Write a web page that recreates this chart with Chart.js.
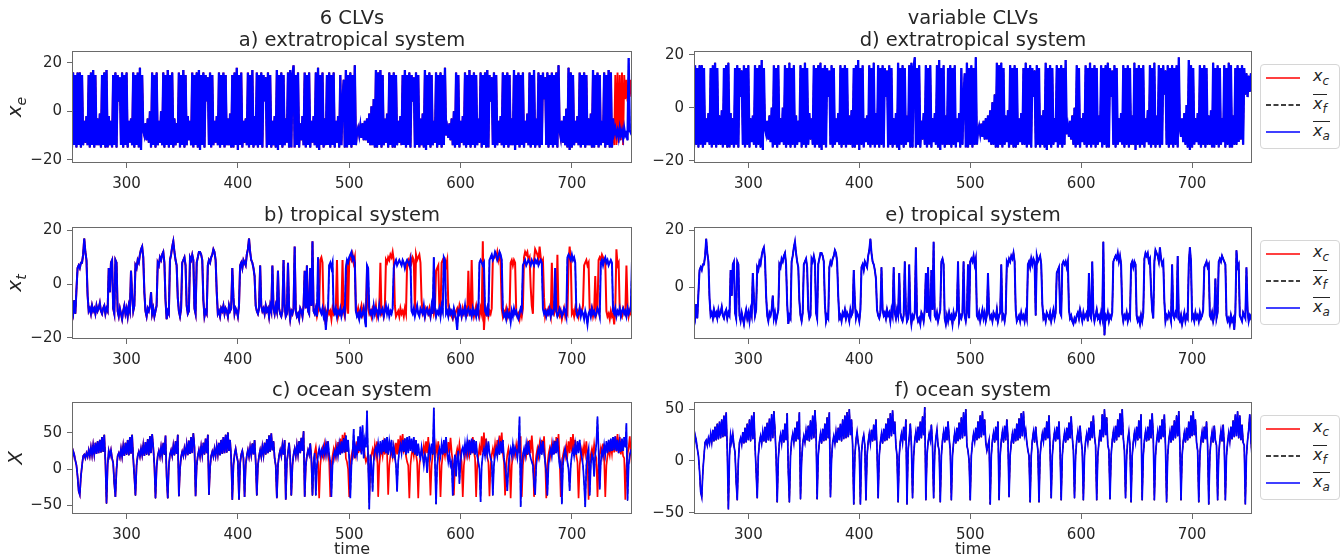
<!DOCTYPE html>
<html>
<head>
<meta charset="utf-8">
<script src="https://cdn.jsdelivr.net/npm/chart.js@4.4.1/dist/chart.umd.min.js"></script>
<style>
  body { margin: 0; background: #fff; font-family: 'DejaVu Sans', sans-serif; color: #262626; }
  #fig { position: relative; width: 1343px; height: 560px; overflow: hidden; }
  canvas { position: absolute; }
  .ttl { position: absolute; width: 600px; margin-left: -300px; text-align: center; font-size: 19.5px; line-height: 22px; }
  .ylab { position: absolute; font-size: 20px; font-style: italic; transform: translate(-50%, -50%) rotate(-90deg); white-space: nowrap; }
  .ylab sub { font-size: 14px; }
  .xlab { position: absolute; width: 200px; margin-left: -100px; text-align: center; font-size: 16px; }
  .leg { position: absolute; left: 1260px; width: 80px; height: 85px; border: 1px solid #d6d6d6; border-radius: 4px; background: #fff; box-sizing: border-box; }
  .leg svg { position: absolute; left: 5px; }
  .leg .lt { position: absolute; left: 52px; font-size: 16px; font-style: italic; line-height: 17px; }
  .leg sub { font-size: 12px; }
  .ov { display: inline-block; border-top: 1px solid #262626; line-height: 16px; padding-top: 1px; }
</style>
</head>
<body>
<div id="fig">
  <canvas id="pa" width="640" height="200" style="left:0;top:0"></canvas>
  <canvas id="pb" width="640" height="180" style="left:0;top:190px"></canvas>
  <canvas id="pc" width="640" height="190" style="left:0;top:370px"></canvas>
  <canvas id="pd" width="610" height="200" style="left:650px;top:0"></canvas>
  <canvas id="pe" width="610" height="180" style="left:650px;top:190px"></canvas>
  <canvas id="pf" width="610" height="190" style="left:650px;top:370px"></canvas>

  <div class="ttl" style="left:352px;top:7px">6 CLVs<br>a) extratropical system</div>
  <div class="ttl" style="left:973px;top:7px">variable CLVs<br>d) extratropical system</div>
  <div class="ttl" style="left:352px;top:204px">b) tropical system</div>
  <div class="ttl" style="left:973px;top:204px">e) tropical system</div>
  <div class="ttl" style="left:352px;top:379px">c) ocean system</div>
  <div class="ttl" style="left:973px;top:379px">f) ocean system</div>

  <div class="ylab" style="left:15px;top:107px">x<sub>e</sub></div>
  <div class="ylab" style="left:15px;top:283px">x<sub>t</sub></div>
  <div class="ylab" style="left:15px;top:458px">X</div>
  <div class="xlab" style="left:352px;top:539px">time</div>
  <div class="xlab" style="left:973px;top:539px">time</div>

  <div class="leg" style="top:64px" id="lg1"></div>
  <div class="leg" style="top:240px" id="lg2"></div>
  <div class="leg" style="top:415px" id="lg3"></div>
</div>
<script>
// time axis
const tStart = 250;
const xTicks = [300, 400, 500, 600, 700];
const yTicksE = [-20, 0, 20];
const yTicksTb = [-20, 0, 20];
const yTicksTe = [0, 20];
const yTicksO = [-50, 0, 50];

// truth x_c, extratropical (t = 250..754)
const xcE = [
  16, -15, 16, -14, 15, -15, 16, -14, 16, -15,
  15, -14, -4, -13, -2, -14, 15, -15, 16, -14,
  17, -15, 15, -14, -3, -14, -1, -15, 15, -14,
  16, -15, 17, -15, -2, -14, -4, -15, 15, -14,
  16, -15, 15, 4, 14, -14, 16, -15, 15, -14,
  16, -15, -4, -13, -3, -14, 16, -15, 15, -14,
  16, -15, 18, -16, 15, -8, -10, -5, -12, -3,
  -13, 0, -15, 16, -14, 15, -15, 16, -14, -4,
  -13, 0, -14, 16, -15, 15, -14, 17, -15, 15,
  -14, 16, -15, -3, -14, -5, -13, 16, -15, 15,
  -14, 17, -15, 15, -14, -2, -12, -4, -14, 16,
  -15, 15, -14, 16, -15, 17, -16, 15, -14, 16,
  -15, 15, 4, 14, -14, 16, -15, 15, -14, -4,
  -13, -2, -14, 16, -15, 15, -14, 16, -15, 15,
  -14, -3, -14, -1, -15, 15, -15, 16, -14, 18,
  -16, 15, -14, 16, -15, -4, -13, -3, -14, 16,
  -15, 15, -14, 17, -15, -2, -14, 16, -15, 15,
  -14, 16, -15, 15, 4, 14, -15, 16, -14, 15,
  -15, -4, -14, -2, -15, 17, -16, 15, -14, 16,
  -15, 15, -14, -3, -13, 16, -15, 17, -15, 15,
  19, -15, 15, -14, 16, -15, -5, -12, -2, -14,
  16, -15, 15, -14, 16, -15, -4, -13, -2, -14,
  16, -15, 18, -16, 15, -14, 16, -15, -3, -14,
  15, -14, 16, -15, 15, -14, 16, -15, -4, -13,
  -2, -15, 15, -14, 4, 13, -15, 17, -15, 15,
  -14, 16, -15, 15, -14, 19, -14, -9, -7, -10,
  -6, -11, -5, -12, -4, -12, -3, -13, -1, -14,
  2, -14, 5, -15, 17, -15, 16, -14, 17, -15,
  15, -14, -3, -13, -1, -15, 16, -14, 15, -15,
  16, -15, 15, -14, -4, -13, -2, -14, 15, -14,
  17, -15, 15, -14, 16, -15, 15, 4, 14, -15,
  16, -14, 15, -15, -3, -14, -1, -15, 17, -16,
  15, -14, 16, -15, 15, -14, -4, -13, 16, -15,
  15, -14, 16, -15, 15, -14, 18, -10, -7, -11,
  -5, -12, -3, -14, 0, -15, 16, -14, 15, -15,
  -4, -13, -2, -14, 16, -15, 15, -14, 17, -15,
  15, -14, 16, -15, 15, -14, -3, -13, 16, -15,
  15, -14, 16, -15, 17, -15, 15, 4, 14, -14,
  16, -15, 15, -14, -4, -13, -2, -14, 16, -15,
  15, -14, 16, -15, 15, -14, -3, -14, 17, -16,
  15, -14, 16, -15, 15, -14, 16, -15, -4, -13,
  -1, -14, 16, -15, 15, -14, 17, -15, -3, -14,
  16, -15, 15, -14, 16, 5, 14, -14, 16, -15,
  15, -14, 16, -15, 15, -14, 16, -15, 19, -8,
  -11, -4, -13, -2, -14, 1, -15, 18, -16, 16,
  -15, 15, -14, -4, -13, -2, -14, 16, -15, 15,
  -14, 16, -15, 15, -14, -3, -14, -1, -15, 17,
  -15, 15, -14, 16, -15, 15, -14, -4, -13, 16,
  -15, 15, -14, 17, -15, 16, -15, -3, -14, 15,
  -14, 16, -13, 15, -12, 16, -14, 15, 5, 13,
  4, 12, 6, 13, 7,
];
// 6 CLVs analysis, extratropical, from t = 738 on
const xaE6Tail = [-9, -7, -10, -8, -11, -7, -10, -8, -11, -7, -10, -9, -12, 22, -8, -9, -8];

// truth x_c, tropical
const xcT = [
  -4, -9, -11, -6, -11, -2, 6, 7, 6, 8,
  8, 11, 17, 12, 9, -4, -10, -9, -11, -8,
  -10, -9, -11, -8, -10, -9, -7, -10, -11, -9,
  -8, -11, -9, -10, 6, -3, 8, 9, -9, -11,
  9, 8, -10, -12, -9, -11, -13, -10, -8, -11,
  -9, -12, -8, -10, 5, -4, -10, -8, 7, 6,
  9, 8, 11, 13, 14, 10, -3, -10, -12, -9,
  -10, -8, -3, -11, -9, -12, -10, -8, 8, 7,
  10, 9, 11, 12, 8, -6, -13, -10, -11, 9,
  11, 14, 16, 12, 9, 7, -5, -10, -12, -9,
  8, 9, 10, 7, -8, -11, -10, 10, 9, 11,
  9, -9, -11, 8, 10, 12, 12, 11, 9, -6,
  -12, -10, -11, 7, 9, 8, 10, 11, 13, 12,
  9, -3, -11, -10, -12, -9, -10, -8, -11, -9,
  -10, -12, -8, -10, -9, 6, -5, -11, -9, -10,
  -12, -8, 7, 8, 6, 9, 8, 7, 11, 13,
  17, 12, 9, 8, 6, 3, -8, -10, -11, -9,
  7, -8, -10, -9, -11, -8, -10, -9, -12, -8,
  -10, 7, -9, -11, -8, -10, 5, -9, -11, -12,
  -10, 9, -8, -12, -11, 8, -9, -13, -10, -11,
  -9, 14, -10, -12, -11, -13, -9, -10, -12, -8,
  5, -9, 7, -10, -11, 6, -8, 16, -10, -11,
  -9, -12, -10, -8, 9, 10, 8, -11, -13, -10,
  -12, -9, -11, -10, -13, -9, -11, -10, -8, 9,
  -12, -10, -11, -9, 9, -10, -12, -9, 8, -11,
  9, 10, 9, 11, 8, 10, -10, -11, -9, -12,
  -10, -8, -11, -9, -12, -10, 5, -9, -11, -10,
  -12, -9, -10, -11, -8, -12, -10, -9, 8, -11,
  -10, -12, -9, 9, 8, 10, 9, 11, 10, 12,
  9, -8, -12, -11, -10, -12, -9, -11, -10, -12,
  -9, -11, 8, 9, 7, 10, 8, 10, 9, -10,
  11, 9, 10, 11, 8, -6, -11, -10, -12, -9,
  -10, -11, -9, -12, -10, -8, -11, -9, 5, 6,
  7, -9, -10, 8, 9, 8, 9, 7, 9, -8,
  -11, -10, -12, -13, -11, -12, -10, -9, -11, -8,
  -10, -12, -9, -11, -10, -9, -12, 5, -10, -11,
  9, -9, -12, -10, -8, -11, -10, -12, -9, -11,
  16, -17, -10, -11, -9, -12, -10, -11, -9, 9,
  10, 11, 10, 12, 9, 11, 8, -9, -12, -10,
  -11, -9, -12, -10, -11, 8, 9, 7, 9, 8,
  -10, -12, -11, -13, -10, -12, -9, 10, 12, 11,
  12, 9, 10, -1, -8, -11, 9, 13, 12, 11,
  9, 14, 10, 8, 9, -5, -12, -10, -11, -9,
  -10, -12, 8, -10, -11, -9, -10, 11, -11, -12,
  -10, -13, -11, -9, -12, -10, -11, 8, 14, 9,
  -11, -10, -12, -9, -11, -10, -12, -9, -11, -10,
  -8, 7, 8, 9, 7, 8, -10, -11, -9, -12,
  -10, 3, -11, -9, 9, 10, 9, 11, 10, 9,
  8, -10, -12, -11, -13, -10, -12, -11, -15, -9,
  13, 7, 8, -10, -11, -12, -9, -10, -11, 7,
  -8, -12, -10, -11, -9,
];
// 6 CLVs analysis, tropical, from t = 470 on
const xaT6Tail = [
  -9, -12, 10, -8, -10, -11, -9, -12, -10, -17,
  -11, -9, 7, 8, 6, 8, -10, -11, -9, -12,
  -10, -11, -9, -12, -10, -9, -11, 6, 9, 8,
  10, 11, 12, 9, 10, 8, -10, -12, -11, -13,
  -10, -12, -11, -9, -13, -16, 7, 6, -9, -11,
  -10, -12, -8, -11, -9, -10, -12, -8, -11, -10,
  -9, -12, -10, -8, -11, -9, -12, -10, -11, -9,
  6, 8, 9, 7, 8, 9, 8, 7, 9, 8,
  6, 8, 9, 8, 7, 9, -10, -11, -9, -12,
  -10, -8, -11, -12, -9, -10, -11, -8, -12, -10,
  -9, -11, -10, -12, -8, -11, 10, -9, -12, -10,
  -11, -9, -12, -8, -10, 10, 9, -11, -10, -12,
  -9, -11, -10, -12, -9, -11, -13, -17, -10, -11,
  -9, -12, -10, -11, -8, -12, -10, -9, -11, -10,
  -12, -9, -11, -10, -12, -9, -11, 8, 9, 8,
  7, 8, -10, -11, -9, -12, 9, 10, 11, 9,
  10, 12, 11, 9, 10, 12, 11, 9, -10, -12,
  -11, -13, -10, -12, -11, -14, -10, -12, -9, -11,
  -10, -12, -13, -11, -9, -10, 7, 8, 9, 7,
  8, 9, 8, 7, 9, 8, 7, 9, 8, 9,
  7, 8, 9, 8, -9, -11, -10, -12, -10, -11,
  -9, -12, -10, -11, -9, 6, -10, -12, -11, -9,
  -10, -12, -11, -9, -10, -12, 10, 11, 10, 9,
  11, 9, 10, 8, -10, -12, -11, -9, -12, -10,
  -11, -13, -10, -12, -15, -11, -10, -12, -9, -11,
  -10, -12, -11, -9, -10, -12, 8, 9, 7, 9,
  10, 8, 9, 7, 8, 9, 8, -10, -11, -9,
  -12, -10, -11, -9, -12, -10, -9, -11, -10, -12,
  -9, -11, -10, -8, 9,
];

// truth x_c, ocean
const xcO = [
  -45, 10, 25, 20, 12, 5, -10, -30, -35, -10,
  5, 18, 20, 15, 22, 17, 26, 18, 30, 19,
  33, 20, 36, 21, 38, 22, 40, 23, 44, 24,
  47, 10, -47, 5, 25, 18, 26, 15, 8, -20,
  -38, 0, 18, 22, 16, 28, 17, 32, 18, 36,
  20, 40, 19, 44, 21, 47, 15, -10, -36, 5,
  18, 24, 17, 28, 19, 33, 18, 37, 20, 41,
  19, 45, 22, 48, 30, 5, -40, 2, 18, 25,
  17, 30, 18, 36, 20, 46, -10, -40, 5, 20,
  26, 18, 32, 19, 38, 21, 47, -37, 0, 17,
  24, 18, 29, 20, 34, 19, 39, 21, 44, 22,
  49, 30, -37, 5, 18, 26, 17, 31, 19, 36,
  20, 42, 22, 47, -35, 2, 18, 24, 17, 28,
  18, 32, 20, 36, 19, 40, 21, 44, 22, 47,
  23, 50, 25, 40, 15, -42, 5, 20, 28, 18,
  10, -42, 8, 20, 25, 15, -38, 5, 18, 26,
  17, 30, 19, 35, 20, 40, 10, -36, 5, 18,
  26, 17, 31, 19, 36, 20, 41, 22, 46, 24,
  49, 26, 38, 15, 5, -40, 5, 19, 26, 18,
  33, 20, 40, -42, 10, 22, 36, 15, -36, 5,
  20, 28, 18, 33, 20, 38, 22, 43, 25, 52,
  -38, 5, 18, 26, 20, 35, 15, -36, 8, 22,
  30, 15, 10, -40, 5, 20, 28, 18, 33, 20,
  38, 22, 10, -38, 5, 18, 27, 17, 32, 19,
  37, 21, 42, 22, 47, 24, 50, 15, 10, 0,
  -38, 5, 18, 26, 19, 32, 20, 38, 22, 44,
  23, 48, 25, 40, 18, 10, 15, 20, -42, 5,
  20, 27, 18, 33, 20, 38, -38, 5, 20, 28,
  18, 34, 20, 40, 22, -35, 5, 18, 26, 17,
  31, 19, 36, 20, 41, 22, 46, 24, 48, 25,
  30, 18, 10, 5, -40, 5, 20, 28, 18, 33,
  20, 10, -40, 5, 18, 26, 19, 32, 20, 38,
  22, 44, 10, -36, 5, 20, 28, 19, 33, 21,
  38, 10, -38, 5, 19, 27, 18, 32, 20, 37,
  22, 43, 23, 10, -36, 5, 20, 28, 18, 34,
  20, 10, -38, 5, 19, 26, 18, 32, 20, 38,
  22, 44, 24, 15, -38, 5, 18, 30, 19, 45,
  23, 50, 25, 42, 16, 10, -37, 5, 20, 28,
  18, 34, 20, 40, 23, 46, 25, 50, 22, 10,
  -36, 5, 20, 28, 15, -40, 5, 18, 27, 19,
  33, 20, 39, 22, 45, -38, 5, 20, 28, 19,
  33, 20, 40, 22, 46, 24, -38, 5, 19, 28,
  18, 34, 21, 40, 23, 45, 15, -40, 5, 20,
  28, 18, 34, 20, 39, 22, 44, 24, 48, 15,
  -38, 5, 19, 27, 18, 32, 20, 38, 22, 44,
  24, 48, 25, 40, 18, 10, -40, 5, 20, 28,
  18, 33, 21, 38, 15, -42, 5, 20, 28, 18,
  34, 20, 15, -38, 5, 20, 29, 19, 35, 15,
  -38, 5, 18, 27, 19, 33, 21, 39, 23, 45,
  24, 48, 22, 44, 20, 35, 18, 15, -42, 5,
  20, 30, 45, 20, 5,
];
// 6 CLVs analysis, ocean, from t = 470 on
const xaO6Tail = [
  -36, 5, 20, 28, 18, 26, 19, 30, 20, 34,
  21, 38, 20, 10, -38, 5, 18, 25, 17, 30,
  19, 34, 20, 38, 22, 42, 23, 46, 24, 40,
  15, -40, 5, 20, 55, 15, 30, 20, 45, 25,
  58, 20, 60, 15, 40, 30, 80, 10, -55, 20,
  5, -31, 10, 25, 30, 20, 35, 22, 38, 20,
  40, 24, 42, 22, 44, 20, 38, 25, 40, 15,
  30, 18, 5, -31, 10, 25, 33, 22, 40, 24,
  42, 20, 44, 22, 45, 25, 42, 23, 44, 20,
  40, 18, 35, 20, 15, 30, 18, 5, 20, 15,
  -5, 20, 30, 18, 35, 20, 84, 10, -48, 5,
  20, 28, 18, 34, 20, 40, 22, 44, 24, 10,
  20, 5, 10, -36, 5, 20, -10, 15, 25, -20,
  10, 25, 30, 20, 35, 22, 38, 24, 40, 20,
  42, 22, 40, 20, 38, 18, 10, 0, -45, 5,
  20, 28, 18, 33, 20, 38, 22, 15, 10, -36,
  5, 20, 28, 18, 34, 20, 38, 22, 40, 15,
  5, -10, -30, 5, 20, 28, 18, 34, 20, 30,
  25, 15, 30, 72, -52, 5, 20, 28, 18, 34,
  20, 38, 22, 15, 10, 5, -20, -35, 5, 20,
  28, 18, 34, 20, 38, 22, 10, -5, -36, 5,
  20, 28, 18, 34, 20, 38, 22, 42, 20, 5,
  10, -48, 5, 20, 28, 18, 10, 0, -30, 5,
  20, 28, 18, 34, 20, 38, 22, 40, 24, 15,
  5, -20, -52, 5, 20, 28, -36, 5, 20, 15,
  -10, 20, 35, 72, 25, -28, 10, 25, 18, 33,
  20, 38, 22, 40, 24, 42, 25, 44, 26, 45,
  25, 40, 22, 38, 24, 42, 25, 44, 30, 63,
  -43, 5, 20, 25, 22,
];

const times = xcE.map((v, i) => tStart + i);
const xaE6 = xcE.slice(0, 488).concat(xaE6Tail);
const xaT6 = xcT.slice(0, 220).concat(xaT6Tail);
const xaO6 = xcO.slice(0, 220).concat(xaO6Tail);

const frame = {
  id: 'frame',
  afterDraw(chart) {
    const {ctx, chartArea: a} = chart;
    ctx.save();
    ctx.strokeStyle = '#6a6a6a';
    ctx.lineWidth = 1;
    ctx.strokeRect(Math.round(a.left) + 0.5, Math.round(a.top) + 0.5,
        Math.round(a.right - a.left) - 1, Math.round(a.bottom - a.top) - 1);
    ctx.restore();
  },
};

const minus = (v) => String(v).replace('-', '\u2212');

// w = [red, black, blue] line widths
function panel(id, red, black, blue, yMin, yMax, yTicks, box, w) {
  new Chart(document.getElementById(id), {
    type: 'line',
    data: {
      labels: times,
      datasets: [
        {data: red, borderColor: '#ff0000', borderWidth: w[0], order: 3},
        {data: black, borderColor: '#000000', borderWidth: w[1], borderDash: [5, 2.5], order: 2},
        {data: blue, borderColor: '#0000ff', borderWidth: w[2], order: 1},
      ],
    },
    options: {
      responsive: false,
      animation: false,
      events: [],
      layout: {autoPadding: false, padding: {top: box.top, right: box.right, left: 0, bottom: 0}},
      elements: {point: {radius: 0}, line: {tension: 0}},
      plugins: {legend: {display: false}, tooltip: {enabled: false}},
      scales: {
        x: {
          type: 'linear', min: 251, max: 754,
          afterBuildTicks: (s) => {
            s.ticks = xTicks.map((v) => ({value: v}));
          },
          afterFit: (s) => {
            s.height = box.xh;
          },
          border: {display: false},
          grid: {drawOnChartArea: false, tickLength: 5, color: '#6a6a6a'},
          ticks: {font: {family: 'DejaVu Sans', size: 15}, color: '#262626', padding: 7, maxRotation: 0, autoSkip: false},
        },
        y: {
          min: yMin, max: yMax,
          afterBuildTicks: (s) => {
            s.ticks = yTicks.map((v) => ({value: v}));
          },
          afterFit: (s) => {
            s.width = box.yw;
          },
          border: {display: false},
          grid: {drawOnChartArea: false, tickLength: 5, color: '#6a6a6a'},
          ticks: {font: {family: 'DejaVu Sans', size: 15}, color: '#262626', padding: 5, callback: minus},
        },
      },
    },
    plugins: [frame],
  });
}

const L1 = {yw: 72, right: 8, top: 51, xh: 37};
const L2 = {yw: 72, right: 8, top: 37, xh: 31};
const L3 = {yw: 72, right: 8, top: 32, xh: 46};
const R1 = {yw: 44, right: 8, top: 51, xh: 37};
const R2 = {yw: 44, right: 8, top: 37, xh: 31};
const R3 = {yw: 44, right: 8, top: 32, xh: 46};

panel('pa', xcE, xaE6, xaE6, -21.4, 24.9, yTicksE, L1, [1.9, 1.2, 2.3]);
panel('pb', xcT, xaT6, xaT6, -20.4, 21.3, yTicksTb, L2, [2, 1.2, 2]);
panel('pc', xcO, xaO6, xaO6, -61.5, 92, yTicksO, L3, [1.7, 1, 1.7]);
panel('pd', xcE, xcE, xcE, -20.9, 21.4, yTicksE, R1, [1.4, 1.2, 2.3]);
panel('pe', xcT, xcT, xcT, -18.3, 21.2, yTicksTe, R2, [1.4, 1.2, 2]);
panel('pf', xcO, xcO, xcO, -51.3, 57, yTicksO, R3, [1.2, 1, 1.7]);

// legends
const legendItems = [
  {color: '#ff0000', dash: '', html: '<i>x</i><sub>c</sub>'},
  {color: '#000000', dash: '5,2.5', html: '<span class="ov"><i>x</i><sub>f</sub></span>'},
  {color: '#0000ff', dash: '', html: '<span class="ov"><i>x</i><sub>a</sub></span>'},
];
['lg1', 'lg2', 'lg3'].forEach((id) => {
  const box = document.getElementById(id);
  legendItems.forEach((it, i) => {
    const y = 13 + i * 27;
    box.insertAdjacentHTML('beforeend',
        `<svg width="34" height="4" style="top:${y - 2}px"><line x1="0" y1="2" x2="34" y2="2" stroke="${it.color}" stroke-width="1.5" stroke-dasharray="${it.dash}"/></svg>` +
        `<div class="lt" style="top:${y - 11}px">${it.html}</div>`);
  });
});
</script>
</body>
</html>
